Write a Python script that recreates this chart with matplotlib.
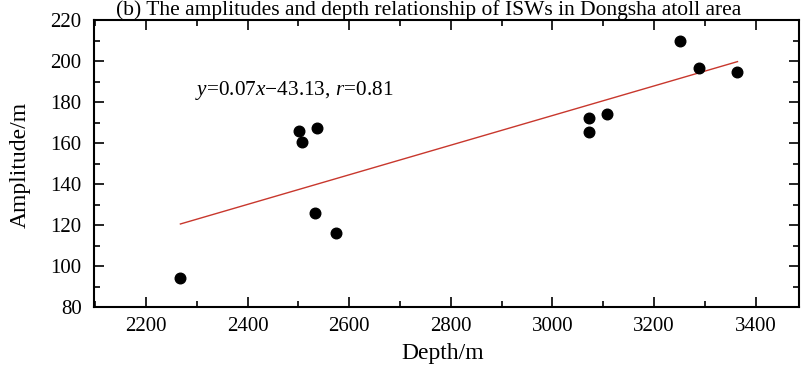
import matplotlib
matplotlib.use("Agg")
import matplotlib.pyplot as plt
from matplotlib.ticker import MultipleLocator

plt.rcParams['font.family'] = ['Liberation Serif', 'DejaVu Serif']
plt.rcParams['mathtext.fontset'] = 'custom'
plt.rcParams['mathtext.rm'] = 'Liberation Serif'
plt.rcParams['mathtext.it'] = 'Liberation Serif:italic'

depth = [2267, 2502, 2508, 2532, 2536, 2575, 3071, 3072, 3108, 3251, 3288, 3363]
amplitude = [94, 166, 160.5, 126, 167.5, 116, 172, 165.5, 174, 210, 196.5, 194.5]
fit_x = [2268, 3364]
fit_y = [120.5, 199.7]
xticks = [2200, 2400, 2600, 2800, 3000, 3200, 3400]
yticks = [80, 100, 120, 140, 160, 180, 200, 220]

W, H = 802, 368
fig = plt.figure(figsize=(W / 100, H / 100), dpi=100)
ax = fig.add_axes([94 / W, 1 - 307 / H, (799 - 94) / W, (307 - 20) / H])

ax.plot(fit_x, fit_y, color='#c8372d', lw=1.0, zorder=2)
ax.scatter(depth, amplitude, s=58, color='black', zorder=3)

ax.set_xlim(2098, 3485)
ax.set_ylim(80, 220)
ax.set_xticks(xticks)
ax.set_yticks(yticks)
ax.xaxis.set_minor_locator(MultipleLocator(100))
ax.yaxis.set_minor_locator(MultipleLocator(10))
ax.tick_params(which='both', direction='in', top=True, right=True, labelsize=15, width=1.2)
ax.tick_params(which='major', length=7)
ax.tick_params(which='minor', length=4)
ax.tick_params(axis='x', which='major', pad=7.5)
ax.tick_params(axis='y', which='major', pad=9)
for s in ax.spines.values():
    s.set_linewidth(1.5)

fig.text(443 / W, 1 - 359 / H, 'Depth/m', fontsize=17, ha='center', va='baseline')
fig.text(20 / W, 1 - 165 / H, 'Amplitude/m', fontsize=17, ha='center', va='center', rotation=90)

fig.text(195 / W, 1 - 95 / H, r'$y$=0.07$x$$-$43.13, $r$=0.81', fontsize=15.3, va='baseline', ha='left')

fig.text(429 / W, 1 - 15 / H, '(b) The amplitudes and depth relationship of ISWs in Dongsha atoll area',
         fontsize=15.5, ha='center', va='baseline')

fig.savefig('out.png', dpi=100)
